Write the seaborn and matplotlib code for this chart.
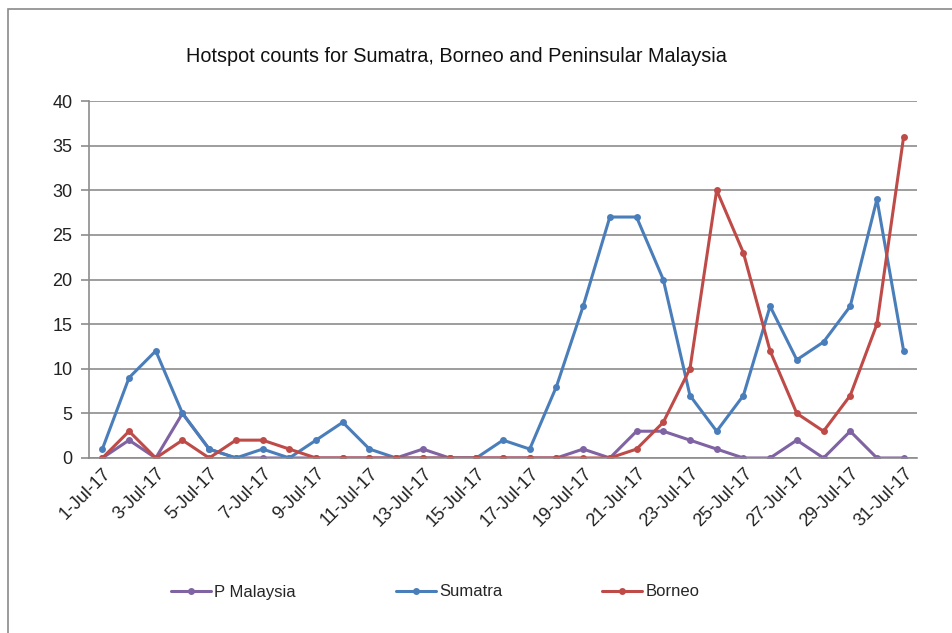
import numpy as np
import pandas as pd
import matplotlib
matplotlib.use("Agg")
import matplotlib.pyplot as plt
from matplotlib.patches import Rectangle
import seaborn as sns

# Daily hotspot counts, July 2017
dates = pd.date_range("2017-07-01", "2017-07-31", freq="D")
p_malaysia = [0, 2, 0, 5, 1, 0, 0, 0, 0, 0, 0, 0, 1, 0, 0, 0, 0, 0, 1, 0,
              3, 3, 2, 1, 0, 0, 2, 0, 3, 0, 0]
sumatra = [1, 9, 12, 5, 1, 0, 1, 0, 2, 4, 1, 0, 0, 0, 0, 2, 1, 8, 17, 27,
           27, 20, 7, 3, 7, 17, 11, 13, 17, 29, 12]
borneo = [0, 3, 0, 2, 0, 2, 2, 1, 0, 0, 0, 0, 0, 0, 0, 0, 0, 0, 0, 0,
          1, 4, 10, 30, 23, 12, 5, 3, 7, 15, 36]
series_names = ["P Malaysia", "Sumatra", "Borneo"]
date_labels = [f"{d.day}-Jul-17" for d in dates]
y_ticks = list(range(0, 41, 5))

palette = {"P Malaysia": "#7F63A3", "Sumatra": "#4A7EBB", "Borneo": "#BE4B48"}

idx = np.arange(len(dates))
df = pd.DataFrame({
    "day": np.tile(idx, 3),
    "count": p_malaysia + sumatra + borneo,
    "series": np.repeat(series_names, len(dates)),
})

sns.set_style("white")
plt.rcParams["font.family"] = ["Liberation Sans", "DejaVu Sans"]

fig = plt.figure(figsize=(9.52, 6.33), dpi=100)
ax = fig.add_axes([89 / 952, 1 - 458 / 633, (917 - 89) / 952, (458 - 101) / 633])

sns.lineplot(data=df, x="day", y="count", hue="series", hue_order=series_names,
             palette=palette, marker="o", markersize=5, markeredgewidth=0,
             linewidth=2.2, ax=ax, legend=True)

ax.set_xlim(-0.5, len(dates) - 0.5)
ax.set_ylim(0, 40)
ax.set_yticks(y_ticks)
ax.set_yticklabels([str(v) for v in y_ticks], fontsize=13, color="#222222")
ax.yaxis.grid(True, color="#8C8C8C", linewidth=1.2)
ax.set_axisbelow(True)

# Category labels on every other day, tick marks between categories
ax.set_xticks(idx[::2])
ax.set_xticklabels(date_labels[::2], rotation=45, ha="right",
                   rotation_mode="anchor", fontsize=13, color="#222222")
ax.set_xticks(np.arange(-0.5, len(dates), 2), minor=True)
ax.tick_params(axis="x", which="major", length=0, pad=5)
ax.tick_params(axis="x", which="minor", length=6, color="#8C8C8C", width=1.2,
               direction="out")
ax.tick_params(axis="y", length=6, color="#8C8C8C", width=1.2, direction="out",
               pad=6, left=True)
ax.set_xlabel("")
ax.set_ylabel("")

for side in ["top", "right"]:
    ax.spines[side].set_visible(False)
for side in ["left", "bottom"]:
    ax.spines[side].set_color("#8C8C8C")
    ax.spines[side].set_linewidth(1.2)

fig.text(456 / 952, 1 - 57 / 633,
         "Hotspot counts for Sumatra, Borneo and Peninsular Malaysia",
         ha="center", va="center", fontsize=14.3, color="#111111")

handles, labels = ax.get_legend_handles_labels()
ax.legend(handles, labels, loc="center", bbox_to_anchor=(435 / 952, 1 - 592 / 633),
          bbox_transform=fig.transFigure, ncol=3, frameon=False, fontsize=12,
          handlelength=2.4, handletextpad=0.2, columnspacing=6.0)

# Chart area border
fig.add_artist(Rectangle((8 / 952, -0.2), 1.2, (1 - 9 / 633) + 0.2,
                         transform=fig.transFigure, fill=False,
                         edgecolor="#8A8A8A", linewidth=1.2))

fig.savefig("out.png", dpi=100)
